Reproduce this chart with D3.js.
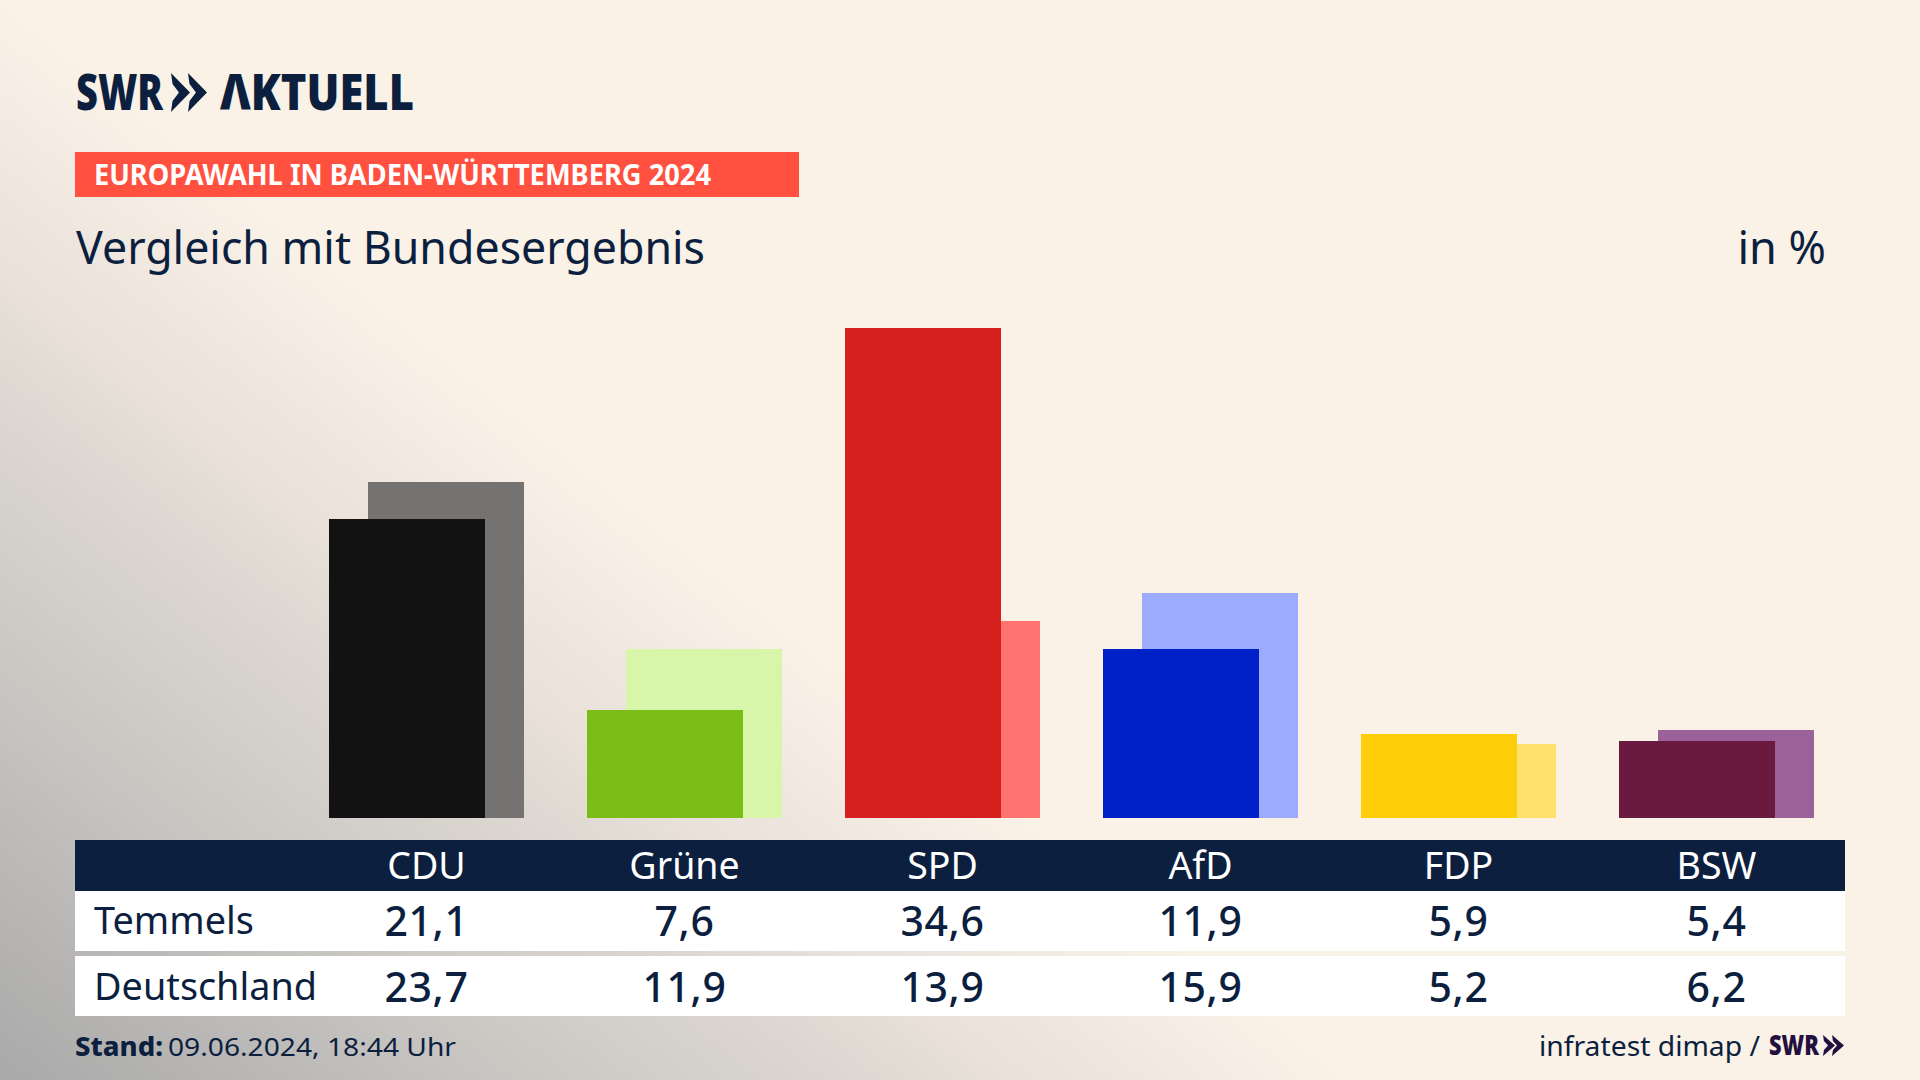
<!DOCTYPE html>
<html>
<head>
<meta charset="utf-8">
<script src="https://cdn.jsdelivr.net/npm/d3@7"></script>
<style>
  html, body { margin: 0; padding: 0; background: #faf2e7; overflow: hidden; }
  svg { display: block; }
  text { font-family: "Noto Sans", sans-serif; }
</style>
</head>
<body>
<div id="chart"></div>
<script>
const parties = ['CDU', 'Grüne', 'SPD', 'AfD', 'FDP', 'BSW'];
const temmels = [21.1, 7.6, 34.6, 11.9, 5.9, 5.4];
const deutschland = [23.7, 11.9, 13.9, 15.9, 5.2, 6.2];
const frontColors = ['#121212', '#7abd17', '#d6201d', '#0021c7', '#ffce0b', '#6b1a3f'];
const backColors = ['#747371', '#d7f6a9', '#ff7470', '#9dabff', '#ffe26e', '#9c6198'];

const width = 1920;
const height = 1080;
const navy = '#0c1f3f';
const fmt = (v) => v.toFixed(1).replace('.', ',');

const svg = d3.select('#chart')
    .append('svg')
    .attr('width', width)
    .attr('height', height);

// background, grey coming in diagonally from the bottom left corner
const grad = svg.append('defs')
    .append('linearGradient')
    .attr('id', 'bg')
    .attr('gradientUnits', 'userSpaceOnUse')
    .attr('x1', 0).attr('y1', 1080).attr('x2', 527).attr('y2', 421);
[[0, '#a9a9a9'], [0.4, '#cbc8c4'], [0.6, '#dad5cf'], [0.75, '#e9e1da'], [0.95, '#f7efe5'], [1, '#faf2e7']]
    .forEach(([o, c]) => grad.append('stop').attr('offset', o).attr('stop-color', c));
svg.append('rect').attr('width', width).attr('height', height).attr('fill', 'url(#bg)');

// logo
const chevrons = (g, x0, y0, h, w, gap, color) => {
    [0, gap].forEach((dx) => {
        const x = x0 + dx;
        g.append('polygon')
            .attr('fill', color)
            .attr('points', [[x, y0], [x + w, y0 + h / 2], [x, y0 + h], [x + w * 0.08, y0 + h * 0.72], [x + w * 0.42, y0 + h / 2], [x + w * 0.08, y0 + h * 0.28]].join(' '));
    });
};
const logo = svg.append('g');
logo.append('text').attr('x', 76).attr('y', 110).attr('font-size', 49).attr('font-weight', 900)
    .attr('fill', navy).attr('textLength', 87).attr('lengthAdjust', 'spacingAndGlyphs').text('SWR');
chevrons(logo, 171, 73, 39, 19, 17, navy);
logo.append('text').attr('x', 220).attr('y', 110).attr('font-size', 49).attr('font-weight', 900)
    .attr('fill', navy).attr('textLength', 194).attr('lengthAdjust', 'spacingAndGlyphs').text('ΛKTUELL');

// red title bar
svg.append('rect').attr('x', 75).attr('y', 152).attr('width', 724).attr('height', 45).attr('fill', '#ff5040');
svg.append('text').attr('x', 94).attr('y', 185).attr('font-size', 28).attr('font-weight', 700)
    .attr('fill', '#fff').attr('textLength', 617).attr('lengthAdjust', 'spacingAndGlyphs')
    .text('EUROPAWAHL IN BADEN-WÜRTTEMBERG 2024');

svg.append('text').attr('x', 76).attr('y', 264).attr('font-size', 45).attr('fill', navy)
    .attr('textLength', 629).attr('lengthAdjust', 'spacingAndGlyphs').text('Vergleich mit Bundesergebnis');
svg.append('text').attr('x', 1826).attr('y', 264).attr('font-size', 45).attr('fill', navy)
    .attr('text-anchor', 'end').text('in %');

// scales
const x = d3.scaleBand().domain(parties).range([297.8, 297.8 + 6 * 258]);
const y = d3.scaleLinear().domain([0, 34.6]).range([817.4, 328]);
const baseline = 818;
const barWidth = 156;
const shift = 19.5;
const barX = (p) => x(p) + x.bandwidth() / 2 - barWidth / 2;

// Deutschland bars sit behind, shifted right
svg.append('g').attr('shape-rendering', 'crispEdges').selectAll('rect')
    .data(parties)
    .join('rect')
    .attr('x', (p) => barX(p) + shift)
    .attr('y', (p, i) => y(deutschland[i]))
    .attr('width', barWidth)
    .attr('height', (p, i) => baseline - y(deutschland[i]))
    .attr('fill', (p, i) => backColors[i]);

svg.append('g').attr('shape-rendering', 'crispEdges').selectAll('rect')
    .data(parties)
    .join('rect')
    .attr('x', (p) => barX(p) - shift)
    .attr('y', (p, i) => y(temmels[i]))
    .attr('width', barWidth)
    .attr('height', (p, i) => baseline - y(temmels[i]))
    .attr('fill', (p, i) => frontColors[i]);

// table
svg.append('rect').attr('x', 75).attr('y', 840).attr('width', 1770).attr('height', 51).attr('fill', navy);
svg.append('rect').attr('x', 75).attr('y', 891).attr('width', 1770).attr('height', 60).attr('fill', '#fff');
svg.append('rect').attr('x', 75).attr('y', 956).attr('width', 1770).attr('height', 60).attr('fill', '#fff');

const center = (p) => x(p) + x.bandwidth() / 2 - 0.3;
svg.append('g').selectAll('text')
    .data(parties)
    .join('text')
    .attr('x', center)
    .attr('y', 879)
    .attr('text-anchor', 'middle')
    .attr('font-size', 37.5)
    .attr('fill', '#fff')
    .text((p) => p);

[['Temmels', temmels, 934, 160], ['Deutschland', deutschland, 1000, 223]].forEach(([label, values, base, len]) => {
    svg.append('text').attr('x', 94).attr('y', base).attr('font-size', 38).attr('fill', navy)
        .attr('textLength', len).attr('lengthAdjust', 'spacingAndGlyphs').text(label);
    svg.append('g').selectAll('text')
        .data(parties)
        .join('text')
        .attr('x', center)
        .attr('y', base + 2)
        .attr('text-anchor', 'middle')
        .attr('font-size', 41)
        .attr('letter-spacing', 0.6)
        .attr('font-weight', 500)
        .attr('fill', navy)
        .text((p, i) => fmt(values[i]));
});

// footer
svg.append('text').attr('x', 75).attr('y', 1056).attr('font-size', 26).attr('font-weight', 800)
    .attr('fill', navy).attr('textLength', 88).attr('lengthAdjust', 'spacingAndGlyphs').text('Stand:');
svg.append('text').attr('x', 168).attr('y', 1056).attr('font-size', 26).attr('fill', navy)
    .attr('textLength', 288).attr('lengthAdjust', 'spacingAndGlyphs').text('09.06.2024, 18:44 Uhr');
svg.append('text').attr('x', 1539).attr('y', 1056).attr('font-size', 28).attr('fill', navy)
    .attr('textLength', 221).attr('lengthAdjust', 'spacingAndGlyphs').text('infratest dimap /');
svg.append('text').attr('x', 1769).attr('y', 1055).attr('font-size', 28).attr('font-weight', 900)
    .attr('fill', '#24103f').attr('textLength', 50).attr('lengthAdjust', 'spacingAndGlyphs').text('SWR');
chevrons(svg.append('g'), 1823, 1035, 21, 12, 9, '#24103f');
</script>
</body>
</html>
